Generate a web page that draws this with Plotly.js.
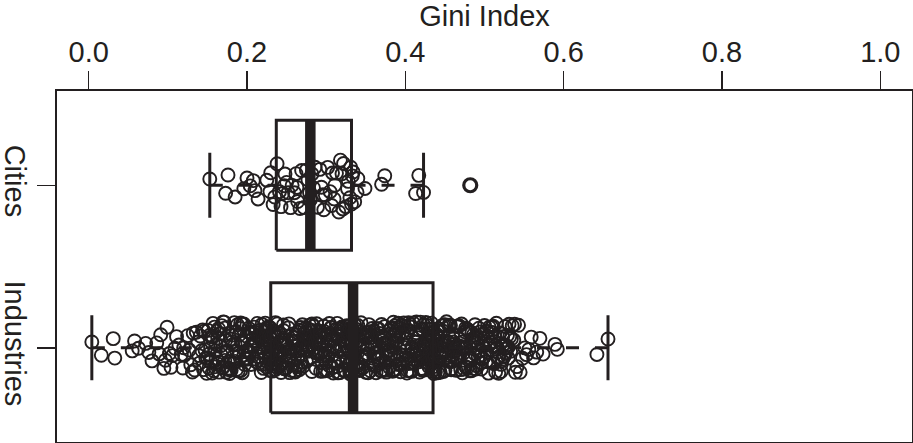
<!DOCTYPE html>
<html>
<head>
<meta charset="utf-8">
<script src="https://cdn.plot.ly/plotly-3.0.1.min.js"></script>
<style>
  html, body { margin: 0; padding: 0; background: #ffffff; }
  #chart { width: 913px; height: 443px; }
</style>
</head>
<body>
<div id="chart"></div>
<script>
// Gini index of cities and of industries
const groups = ['Cities', 'Industries'];

const cityGini = [
  0.153, 0.173, 0.176, 0.185, 0.196, 0.200, 0.204, 0.208, 0.210, 0.214,
  0.225, 0.229, 0.230, 0.233, 0.235, 0.238, 0.241, 0.243, 0.245, 0.247,
  0.250, 0.252, 0.255, 0.257, 0.260, 0.263, 0.264, 0.267, 0.269, 0.272,
  0.275, 0.277, 0.279, 0.280, 0.282, 0.286, 0.289, 0.292, 0.294, 0.297,
  0.299, 0.302, 0.305, 0.307, 0.308, 0.310, 0.313, 0.316, 0.318, 0.320,
  0.321, 0.322, 0.325, 0.327, 0.330, 0.331, 0.332, 0.333, 0.334, 0.336,
  0.339, 0.340, 0.349, 0.370, 0.374, 0.413, 0.417, 0.423, 0.482,
  0.248, 0.262, 0.284, 0.296, 0.311, 0.328
];

const industryGini = [
  0.004, 0.016, 0.031, 0.033, 0.055, 0.058, 0.063, 0.072, 0.076, 0.080,
  0.086, 0.089, 0.091, 0.095, 0.097, 0.099, 0.102, 0.104, 0.109, 0.111,
  0.114, 0.117, 0.119, 0.125, 0.127, 0.131, 0.134, 0.136, 0.139, 0.141,
  0.143, 0.146, 0.147, 0.149, 0.151, 0.153, 0.154, 0.156, 0.157, 0.159,
  0.161, 0.162, 0.164, 0.165, 0.167, 0.169, 0.170, 0.172, 0.174, 0.175,
  0.177, 0.178, 0.180, 0.182, 0.183, 0.185, 0.186, 0.188, 0.190, 0.191,
  0.192, 0.194, 0.195, 0.197, 0.199, 0.200, 0.202, 0.203, 0.205, 0.206,
  0.208, 0.209, 0.211, 0.212, 0.214, 0.215, 0.216, 0.218, 0.219, 0.220,
  0.221, 0.222, 0.223, 0.224, 0.225, 0.226, 0.227, 0.228, 0.229, 0.229,
  0.230, 0.231, 0.232, 0.234, 0.235, 0.236, 0.237, 0.238, 0.240, 0.241,
  0.242, 0.243, 0.245, 0.246, 0.247, 0.248, 0.249, 0.251, 0.252, 0.253,
  0.254, 0.256, 0.257, 0.258, 0.259, 0.260, 0.262, 0.263, 0.264, 0.265,
  0.266, 0.268, 0.269, 0.270, 0.271, 0.272, 0.274, 0.275, 0.276, 0.277,
  0.279, 0.280, 0.281, 0.282, 0.283, 0.285, 0.286, 0.287, 0.288, 0.289,
  0.291, 0.292, 0.293, 0.294, 0.296, 0.297, 0.298, 0.299, 0.300, 0.302,
  0.303, 0.304, 0.305, 0.306, 0.308, 0.309, 0.310, 0.311, 0.313, 0.314,
  0.315, 0.316, 0.317, 0.319, 0.320, 0.321, 0.322, 0.323, 0.325, 0.326,
  0.327, 0.328, 0.329, 0.330, 0.331, 0.332, 0.333, 0.334, 0.334, 0.335,
  0.336, 0.338, 0.339, 0.340, 0.341, 0.342, 0.344, 0.345, 0.346, 0.347,
  0.348, 0.350, 0.351, 0.352, 0.353, 0.354, 0.356, 0.357, 0.358, 0.359,
  0.360, 0.362, 0.363, 0.364, 0.365, 0.367, 0.368, 0.369, 0.370, 0.371,
  0.373, 0.374, 0.375, 0.376, 0.377, 0.379, 0.380, 0.381, 0.382, 0.384,
  0.385, 0.386, 0.387, 0.388, 0.390, 0.391, 0.392, 0.393, 0.394, 0.396,
  0.397, 0.398, 0.399, 0.401, 0.402, 0.403, 0.404, 0.405, 0.407, 0.408,
  0.409, 0.410, 0.411, 0.413, 0.414, 0.415, 0.416, 0.418, 0.419, 0.420,
  0.421, 0.422, 0.424, 0.425, 0.426, 0.427, 0.428, 0.429, 0.430, 0.431,
  0.432, 0.433, 0.434, 0.435, 0.436, 0.437, 0.438, 0.440, 0.441, 0.442,
  0.443, 0.444, 0.446, 0.447, 0.448, 0.449, 0.450, 0.451, 0.452, 0.454,
  0.455, 0.456, 0.457, 0.458, 0.459, 0.460, 0.462, 0.463, 0.464, 0.465,
  0.466, 0.467, 0.468, 0.470, 0.471, 0.472, 0.473, 0.475, 0.476, 0.478,
  0.479, 0.481, 0.482, 0.484, 0.485, 0.487, 0.488, 0.490, 0.492, 0.493,
  0.495, 0.497, 0.498, 0.500, 0.502, 0.504, 0.505, 0.507, 0.509, 0.511,
  0.513, 0.515, 0.516, 0.518, 0.520, 0.522, 0.524, 0.526, 0.528, 0.530,
  0.531, 0.533, 0.535, 0.537, 0.539, 0.541, 0.543, 0.545, 0.548, 0.551,
  0.553, 0.556, 0.559, 0.562, 0.566, 0.570, 0.574, 0.589, 0.592, 0.642,
  0.656,
  0.106, 0.121, 0.129, 0.138, 0.144,
  0.152, 0.155, 0.158, 0.160, 0.163, 0.166, 0.168, 0.171, 0.173, 0.176,
  0.179, 0.181, 0.184, 0.187, 0.189, 0.193, 0.196, 0.198, 0.201, 0.204,
  0.207, 0.210, 0.213, 0.217, 0.219, 0.221, 0.223, 0.225, 0.227, 0.228,
  0.231, 0.233, 0.236, 0.239, 0.241, 0.244, 0.246, 0.248, 0.250, 0.253,
  0.255, 0.258, 0.260, 0.261, 0.264, 0.267, 0.269, 0.271, 0.273, 0.276,
  0.278, 0.280, 0.282, 0.284, 0.287, 0.290, 0.292, 0.295, 0.297, 0.299,
  0.301, 0.304, 0.307, 0.309, 0.312, 0.314, 0.317, 0.318, 0.321, 0.324,
  0.326, 0.328, 0.330, 0.332, 0.333,
  0.337, 0.339, 0.342, 0.343, 0.346, 0.349, 0.351, 0.353, 0.355, 0.358,
  0.361, 0.363, 0.366, 0.368, 0.370, 0.372, 0.375, 0.378, 0.380, 0.383,
  0.385, 0.388, 0.389, 0.392, 0.395, 0.397, 0.400, 0.402, 0.404, 0.406,
  0.409, 0.412, 0.414, 0.417, 0.419, 0.421, 0.423, 0.425, 0.427, 0.429,
  0.430, 0.431, 0.432, 0.433, 0.434,
  0.437, 0.439, 0.441, 0.443, 0.445, 0.448, 0.450, 0.453, 0.455, 0.458,
  0.461, 0.463, 0.466, 0.469, 0.472, 0.474, 0.477, 0.480, 0.483, 0.486,
  0.489, 0.491, 0.494, 0.496, 0.499, 0.501, 0.503, 0.506, 0.508, 0.510,
  0.512, 0.514, 0.517, 0.519, 0.521, 0.523, 0.525, 0.527, 0.529, 0.532,
  0.120, 0.132, 0.140, 0.145, 0.148,
  0.150, 0.152, 0.154, 0.157, 0.159, 0.161, 0.163, 0.165, 0.167, 0.170,
  0.172, 0.174, 0.176, 0.178, 0.181, 0.183, 0.185, 0.187, 0.190, 0.192,
  0.194, 0.196, 0.199, 0.201, 0.203, 0.205, 0.207, 0.209, 0.212, 0.214,
  0.216, 0.218, 0.220, 0.222, 0.224, 0.225, 0.226, 0.227, 0.228, 0.229,
  0.230, 0.232, 0.234, 0.236, 0.238, 0.240, 0.242, 0.244, 0.246, 0.248,
  0.250, 0.252, 0.254, 0.256, 0.258, 0.260, 0.262, 0.264, 0.266, 0.268,
  0.270, 0.272, 0.274, 0.276, 0.278, 0.280, 0.282, 0.284, 0.286, 0.288,
  0.290, 0.292, 0.294, 0.296, 0.298, 0.300, 0.302, 0.304, 0.306, 0.308,
  0.310, 0.312, 0.314, 0.316, 0.318, 0.320, 0.322, 0.324, 0.326, 0.328,
  0.330, 0.331, 0.332, 0.333, 0.334,
  0.336, 0.338, 0.340, 0.342, 0.344, 0.346, 0.348, 0.350, 0.352, 0.354,
  0.356, 0.358, 0.360, 0.362, 0.364, 0.366, 0.368, 0.370, 0.372, 0.374,
  0.376, 0.378, 0.380, 0.382, 0.384, 0.386, 0.388, 0.390, 0.392, 0.394,
  0.396, 0.398, 0.400, 0.402, 0.404, 0.406, 0.408, 0.410, 0.412, 0.414,
  0.416, 0.418, 0.420, 0.422, 0.424, 0.426, 0.428, 0.430, 0.431, 0.432,
  0.433, 0.434, 0.435, 0.435, 0.435,
  0.436, 0.438, 0.440, 0.442, 0.444, 0.446, 0.448, 0.450, 0.452, 0.454,
  0.456, 0.458, 0.460, 0.462, 0.464, 0.466, 0.468, 0.470, 0.472, 0.474,
  0.476, 0.478, 0.480, 0.482, 0.484, 0.486, 0.488, 0.490, 0.492, 0.494,
  0.496, 0.498, 0.500, 0.503, 0.506, 0.509, 0.512, 0.515, 0.518, 0.521,
  0.524, 0.527, 0.530, 0.534, 0.538
];

// Box statistics per group: lower whisker, Q1, median, Q3, upper whisker
const whiskerLow  = [0.153, 0.004];
const quart1      = [0.237, 0.230];
const medians     = [0.280, 0.334];
const quart3      = [0.332, 0.435];
const whiskerHigh = [0.423, 0.656];

const tickVals = [0, 0.2, 0.4, 0.6, 0.8, 1.0];
const tickText = ['0.0', '0.2', '0.4', '0.6', '0.8', '1.0'];

const INK = '#231f20';
const FONT = 'Liberation Sans, Arial, Helvetica, sans-serif';
const slot = [2, 1];          // vertical slot for each group
const halfBox = 0.4;          // half box height (data units)
const halfCap = 0.2;          // half whisker-cap height
const jitterAmount = [0.48, 0.4];
const samples = [cityGini, industryGini];

const traces = [];
const line = (x, y, w, dash) => ({
  type: 'scatter', mode: 'lines', x: x, y: y,
  line: { color: INK, width: w, dash: dash || 'solid' },
  hoverinfo: 'skip', showlegend: false
});

groups.forEach((g, i) => {
  const p = slot[i];
  // dashed whiskers, drawn from the whisker end towards the box
  traces.push(line([whiskerLow[i], quart1[i]], [p, p], 3, '13px,16px'));
  traces.push(line([whiskerHigh[i], quart3[i]], [p, p], 3, '13px,16px'));
  // whisker caps
  traces.push(line([whiskerLow[i], whiskerLow[i]], [p - halfCap, p + halfCap], 3));
  traces.push(line([whiskerHigh[i], whiskerHigh[i]], [p - halfCap, p + halfCap], 3));
  // box
  traces.push(line([quart1[i], quart3[i], quart3[i], quart1[i], quart1[i]],
                   [p - halfBox, p - halfBox, p + halfBox, p + halfBox, p - halfBox], 3));
  // thick median bar
  traces.push(line([medians[i], medians[i]], [p - halfBox, p + halfBox], 10.5));

  // values beyond the whiskers sit on the centre line, drawn heavier
  const outside = samples[i].filter(v => v < whiskerLow[i] || v > whiskerHigh[i]);
  const inside = samples[i].filter(v => v >= whiskerLow[i] && v <= whiskerHigh[i]);
  if (outside.length) {
    traces.push({
      type: 'scatter', mode: 'markers',
      x: outside, y: outside.map(() => p),
      marker: { symbol: 'circle-open', size: 13, color: INK, line: { width: 3.2, color: INK } },
      hoverinfo: 'skip', showlegend: false
    });
  }
  // the remaining observations, jittered across the slot
  traces.push({
    type: 'box', orientation: 'h', name: g,
    x: inside, y0: p, width: 0.8,
    boxpoints: 'all', jitter: jitterAmount[i], pointpos: 0,
    fillcolor: 'rgba(0,0,0,0)',
    line: { width: 0, color: 'rgba(0,0,0,0)' },
    whiskerwidth: 0,
    marker: { symbol: 'circle-open', size: 13, color: INK, line: { width: 1.9, color: INK } },
    hoverinfo: 'skip', showlegend: false
  });
});

const layout = {
  width: 913, height: 443,
  margin: { l: 57, r: 1, t: 91, b: 1 },
  paper_bgcolor: '#ffffff', plot_bgcolor: '#ffffff',
  showlegend: false,
  font: { family: FONT, color: INK, size: 29 },
  xaxis: {
    side: 'top', range: [-0.04, 1.04], type: 'linear',
    tickvals: tickVals, ticktext: tickText,
    ticks: 'outside', ticklen: 18, tickwidth: 1.5, tickcolor: INK,
    ticklabelstandoff: -3,
    tickfont: { family: FONT, size: 29, color: INK },
    showline: true, linewidth: 2, linecolor: INK, mirror: true,
    showgrid: false, zeroline: false, automargin: false,
    title: { text: 'Gini Index', font: { family: FONT, size: 29, color: INK }, standoff: 6 }
  },
  yaxis: {
    range: [0.42, 2.58], type: 'linear',
    tickvals: slot, ticktext: groups, tickangle: 90,
    ticks: 'outside', ticklen: 18, tickwidth: 1.5, tickcolor: INK,
    ticklabelstandoff: -3,
    tickfont: { family: FONT, size: 29, color: INK },
    showline: true, linewidth: 2, linecolor: INK, mirror: true,
    showgrid: false, zeroline: false, automargin: false
  }
};

Plotly.newPlot('chart', traces, layout, { staticPlot: true, displayModeBar: false });
</script>
</body>
</html>
